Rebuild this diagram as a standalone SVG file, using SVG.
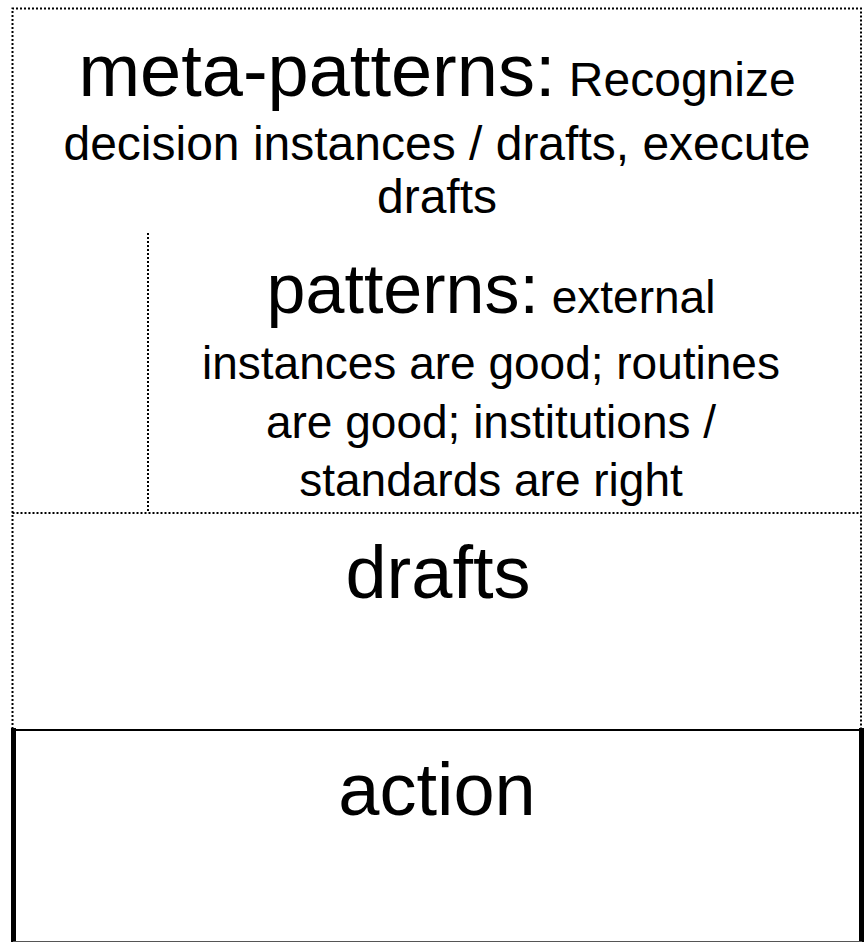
<svg xmlns="http://www.w3.org/2000/svg" width="864" height="942" viewBox="0 0 864 942">
<style>
.dot{fill:none;stroke:#000;stroke-width:2;stroke-dasharray:2 2}
.solid{fill:none;stroke:#000}
text{font-family:"Liberation Sans",Arial,sans-serif;fill:#000;text-anchor:middle}
.big{font-size:74px}
.med{font-size:48px}
.pbig{font-size:70px}
.pmed{font-size:46px}
</style>
<rect x="0" y="0" width="864" height="942" fill="#fff"/>
<g id="connectors">
<path class="dot" d="M12.5 729 V8.5 H861 V729"/>
<path class="dot" d="M12.5 513 H861"/>
<path class="dot" d="M148 233 V513"/>
</g>
<g id="meta-patterns">
<text x="437" y="96"><tspan class="big">meta-patterns:</tspan><tspan class="med"> Recognize</tspan></text>
<text class="med" x="437" y="160">decision instances / drafts, execute</text>
<text class="med" x="437" y="213">drafts</text>
</g>
<g id="patterns">
<text x="491" y="313"><tspan class="pbig">patterns:</tspan><tspan class="pmed"> external</tspan></text>
<text class="pmed" x="491" y="379">instances are good; routines</text>
<text class="pmed" x="491" y="438">are good; institutions /</text>
<text class="pmed" x="491" y="496">standards are right</text>
</g>
<g id="drafts">
<text class="big" x="438" y="598">drafts</text>
</g>
<g id="action">
<path class="solid" stroke-width="2" d="M13 730 H861"/>
<path class="solid" stroke-width="5" d="M13.5 728 V942"/>
<path class="solid" stroke-width="5" d="M861.5 728 V942"/>
<path fill="none" stroke="#555" stroke-width="1" d="M13 941.5 H862"/>
<text class="big" x="437" y="815">action</text>
</g>
</svg>
